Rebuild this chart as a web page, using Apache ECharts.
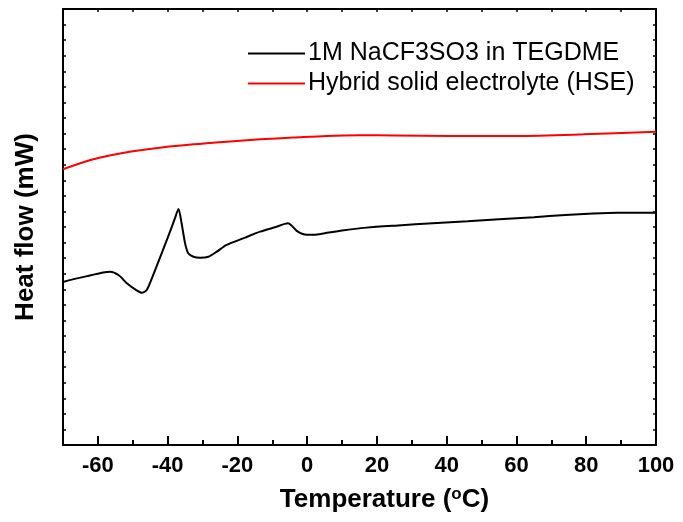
<!DOCTYPE html>
<html>
<head>
<meta charset="utf-8">
<script src="https://cdn.jsdelivr.net/npm/echarts@6/dist/echarts.min.js"></script>
<style>
  html, body { margin: 0; padding: 0; background: #fff; }
  #chart { width: 683px; height: 522px; }
</style>
</head>
<body>
<div id="chart"></div>
<script>
// temperature (°C) and heat flow (arbitrary units, 1 unit = one y tick)
var tempBlack = [-70, -66, -62, -58.5, -56.5, -54, -51.7, -49, -47.4, -46, -44, -42, -40, -38, -36.9,
                 -36, -35, -34.1, -32.6, -30.7, -28.3, -26, -23.1, -18, -13.5, -9, -5.5, -4.5, -3, -1.5,
                 0, 2, 5, 10, 17, 26, 36, 46, 55, 65, 74, 82, 89, 100];
var flowBlack = [10.47, 10.7, 10.9, 11.08, 11.13, 10.9, 10.39, 9.95, 9.78, 9.95, 11.0, 12.15, 13.3, 14.5, 15.16,
                 14.24, 12.95, 12.31, 12.09, 12.03, 12.09, 12.4, 12.85, 13.3, 13.7, 14.0, 14.24, 14.1, 13.75, 13.57,
                 13.5, 13.5, 13.6, 13.78, 13.96, 14.1, 14.24, 14.37, 14.5, 14.63, 14.77, 14.87, 14.92, 14.92];

var tempRed = [-70, -61.3, -51.7, -42.2, -32.6, -23.1, -13.5, -4, 5.6, 15.1, 25, 40.9, 60.1, 79.2, 100];
var flowRed = [17.71, 18.35, 18.8, 19.09, 19.31, 19.48, 19.63, 19.74, 19.85, 19.89, 19.88, 19.85, 19.85, 19.95, 20.12];

var xLabels = [-60, -40, -20, 0, 20, 40, 60, 80, 100];
var xMinorTicks = [-70, -50, -30, -10, 10, 30, 50, 70, 90];

var seriesNames = ['1M NaCF3SO3 in TEGDME', 'Hybrid solid electrolyte (HSE)'];

function pairs(xs, ys) {
  return xs.map(function (x, i) { return [x, ys[i]]; });
}

var chart = echarts.init(document.getElementById('chart'));
var fontFam = '"Liberation Sans", Arial, sans-serif';
var axisLineStyle = { color: '#000', width: 2 };

var option = {
  backgroundColor: '#fff',
  animation: false,
  grid: { left: 63, right: 27, top: 9, bottom: 77, containLabel: false, outerBoundsMode: 'none' },
  legend: {
    orient: 'vertical',
    left: 243,
    top: 36,
    itemWidth: 57,
    itemHeight: 2,
    itemGap: 5,
    icon: 'rect',
    data: seriesNames,
    textStyle: { fontFamily: fontFam, fontSize: 25, color: '#000', padding: [0, 0, 0, -2] }
  },
  xAxis: [{
    type: 'value',
    position: 'bottom',
    min: -70, max: 100,
    name: 'Temperature ({s|o}C)',
    nameLocation: 'middle',
    nameGap: 41,
    nameTextStyle: {
      fontFamily: fontFam, fontSize: 26, fontWeight: 'bold', color: '#000',
      padding: [0, 0, 0, 50],
      rich: { s: { fontSize: 17, fontWeight: 'bold', verticalAlign: 'top', padding: [0, 0, 10, 0] } }
    },
    axisLine: { onZero: false, lineStyle: axisLineStyle },
    axisTick: { inside: true, length: 9, lineStyle: { width: 2, color: '#000' }, customValues: xLabels },
    axisLabel: { customValues: xLabels, fontFamily: fontFam, fontSize: 22, fontWeight: 'bold', color: '#000', margin: 10 },
    splitLine: { show: false }
  }, {
    type: 'value',
    position: 'bottom',
    min: -70, max: 100,
    axisLine: { show: false, onZero: false },
    axisTick: { inside: true, length: 5, lineStyle: { width: 2, color: '#000' }, customValues: xMinorTicks },
    axisLabel: { show: false },
    splitLine: { show: false }
  }, {
    type: 'value',
    position: 'top',
    min: -70, max: 100, interval: 10,
    axisLine: { onZero: false, lineStyle: axisLineStyle },
    axisTick: { inside: true, length: 3, lineStyle: { width: 1.5, color: '#000' } },
    axisLabel: { show: false },
    splitLine: { show: false }
  }],
  yAxis: [{
    type: 'value',
    position: 'left',
    min: 0, max: 28, interval: 1,
    name: 'Heat flow (mW)',
    nameLocation: 'middle',
    nameGap: 24,
    nameTextStyle: { fontFamily: fontFam, fontSize: 26, fontWeight: 'bold', color: '#000' },
    axisLine: { show: true, onZero: false, lineStyle: axisLineStyle },
    axisTick: { show: true, inside: true, length: 3, lineStyle: { width: 1.5, color: '#000' } },
    axisLabel: { show: false },
    splitLine: { show: false }
  }, {
    type: 'value',
    position: 'right',
    min: 0, max: 28, interval: 1,
    axisLine: { show: true, onZero: false, lineStyle: axisLineStyle },
    axisTick: { show: true, inside: true, length: 3, lineStyle: { width: 1.5, color: '#000' } },
    axisLabel: { show: false },
    splitLine: { show: false }
  }],
  series: [{
    name: seriesNames[0],
    type: 'line',
    xAxisIndex: 0, yAxisIndex: 0,
    data: pairs(tempBlack, flowBlack),
    showSymbol: false,
    smooth: 0.25,
    lineStyle: { color: '#000', width: 2 },
    itemStyle: { color: '#000' }
  }, {
    name: seriesNames[1],
    type: 'line',
    xAxisIndex: 0, yAxisIndex: 0,
    data: pairs(tempRed, flowRed),
    showSymbol: false,
    smooth: 0.3,
    lineStyle: { color: '#ff0000', width: 2 },
    itemStyle: { color: '#ff0000' }
  }]
};

chart.setOption(option);
</script>
</body>
</html>
